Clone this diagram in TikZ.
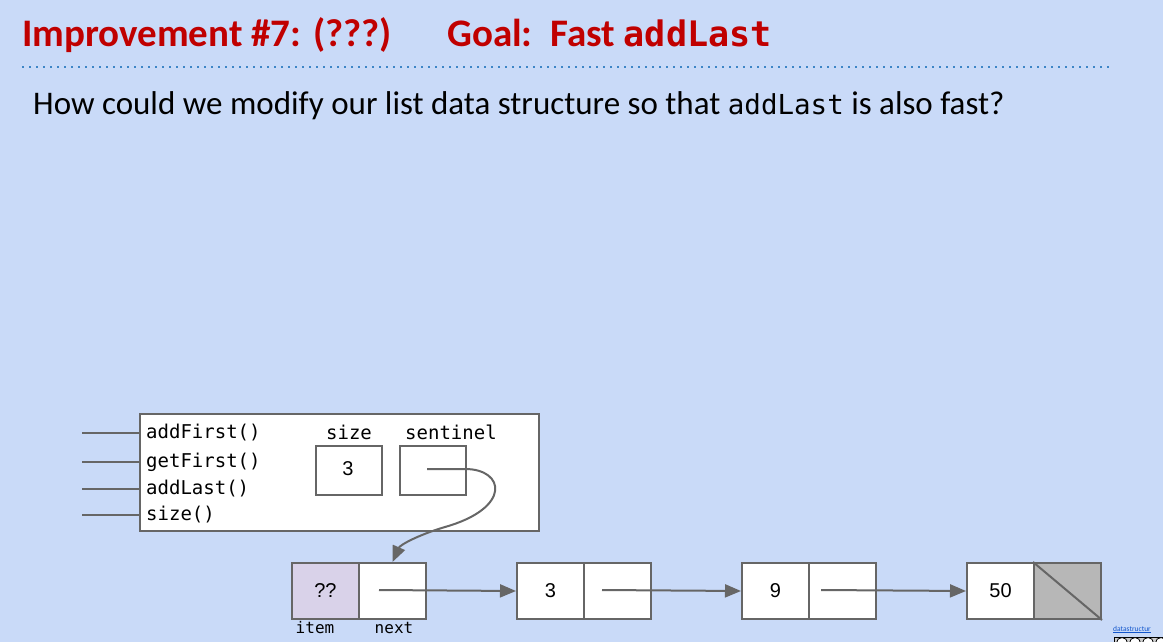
\documentclass[tikz,border=0pt]{standalone}
\usepackage{fontspec}
\setmainfont{Carlito}
\setmonofont{DejaVu Sans Mono}
\newfontfamily\arialfont{Liberation Sans}
\usetikzlibrary{arrows.meta}
\definecolor{bgblue}{RGB}{201,218,248}
\definecolor{titlered}{RGB}{192,0,0}
\definecolor{dotblue}{RGB}{61,133,198}
\definecolor{linegray}{RGB}{102,102,102}
\definecolor{itempurple}{RGB}{217,210,233}
\definecolor{nullgray}{RGB}{183,183,183}
\definecolor{linkblue}{RGB}{17,85,204}
\tikzset{
  cell/.style={draw=linegray, line width=2pt, fill=white},
  conn/.style={draw=linegray, line width=2pt},
  ptr/.style={draw=linegray, line width=2pt, -{Triangle[length=16pt,width=13pt]}},
  mono/.style={font=\fontsize{19}{22}\selectfont\ttfamily, inner sep=0pt},
  num/.style={font=\fontsize{20}{24}\selectfont\arialfont, inner sep=0pt},
}
\begin{document}
\begin{tikzpicture}[x=1pt,y=-1pt]
\fill[bgblue] (0,0) rectangle (1163,642);
\useasboundingbox (0,0) rectangle (1163,642);
% title
\node[anchor=base west, inner sep=0pt, text=titlered, font=\fontsize{39}{42}\selectfont\bfseries] (t1) at (22,47) {Improvement \#7: (???)};
\node[anchor=base west, inner sep=0pt, text=titlered, font=\fontsize{39}{42}\selectfont\bfseries] (t2) at (447,47) {Goal:\ \ Fast {\fontspec{DejaVu Sans Mono}[Scale=0.9]\bfseries addLast}};
\draw[dotblue, line width=2.4pt, dash pattern=on 1.6pt off 5.4pt] (22,67) -- (1110,67);
% subtitle
\node[anchor=base west, inner sep=0pt, font=\fontsize{33}{36}\selectfont] (sub) at (33,114) {How could we modify our list data structure so that {\ttfamily\fontsize{27.5}{30}\selectfont addLast} is also fast?};
% list object
\node[cell, minimum width=399pt, minimum height=117pt, inner sep=0pt, anchor=north west] (obj) at (139,413) {};
\foreach \y/\t/\n in {433/addFirst()/m1, 462/getFirst()/m2, 489/addLast()/m3, 515/size()/m4}{
  \coordinate (\n l) at (82,\y);
  \coordinate (\n r) at (139,\y);
  \draw[conn] (\n l) -- (\n r);
  \node[mono, anchor=west] (\n) at (146,\y) {\t};
}
\node[mono] (sizelbl) at (349,432) {size};
\node[mono] (sentlbl) at (451,432) {sentinel};
\node[cell, minimum width=66pt, minimum height=49pt, inner sep=0pt, anchor=north west] (sizebox) at (315,445) {};
\node[num] (sizeval) at (348,469) {3};
\node[cell, minimum width=66pt, minimum height=49pt, inner sep=0pt, anchor=north west] (sentbox) at (399,445) {};
\coordinate (sentstart) at (427,469);
% nodes
\newcommand{\listnode}[4]{% name, x, label, itemfill
  \node[cell, fill=#4, minimum width=67pt, minimum height=56pt, inner sep=0pt, anchor=north west] (#1i) at (#2,562) {};
  \node[cell, minimum width=67pt, minimum height=56pt, inner sep=0pt, anchor=north west] (#1n) at (#2+67,562) {};
  \node[num] (#1v) at (#1i.center) {#3};
}
\listnode{s}{291}{??}{itempurple}
\listnode{a}{516}{3}{white}
\listnode{b}{741}{9}{white}
% last node
\node[cell, minimum width=67pt, minimum height=56pt, inner sep=0pt, anchor=north west] (ci) at (966,562) {};
\node[cell, fill=nullgray, minimum width=67pt, minimum height=56pt, inner sep=0pt, anchor=north west] (cn) at (1033,562) {};
\node[num] (cv) at (ci.center) {50};
\draw[conn] (cn.north west) -- (cn.south east);
\node[mono, font=\fontsize{16}{18}\selectfont\ttfamily] (itemlbl) at (315,628) {item};
\node[mono, font=\fontsize{16}{18}\selectfont\ttfamily] (nextlbl) at (394,628) {next};
% pointers
\coordinate (sp) at (379,590);
\coordinate (ap) at (602,590);
\coordinate (bp) at (821,590);
\draw[ptr] (sp) -- (ai.west);
\draw[ptr] (ap) -- (bi.west);
\draw[ptr] (bp) -- (ci.west);
\draw[ptr] (sentstart) -- (465,469) .. controls (505,469) and (512,508) .. (445,527) .. controls (418,535) and (400,545) .. (sn.north);
% footer
\node[anchor=base west, inner sep=0pt, text=linkblue, font=\fontsize{7.5}{8}\selectfont] (link) at (1113,631) {\underline{datastructur}};
\begin{scope}
\clip (1110,636) rectangle (1163,642);
\draw[black, line width=0.8pt, fill=gray!40] (1114,637) rectangle (1170,652);
\foreach \cx in {1122,1135,1148,1161}{\draw[black, line width=0.8pt, fill=white] (\cx,643) circle (5.5);}
\end{scope}
\end{tikzpicture}
\end{document}
